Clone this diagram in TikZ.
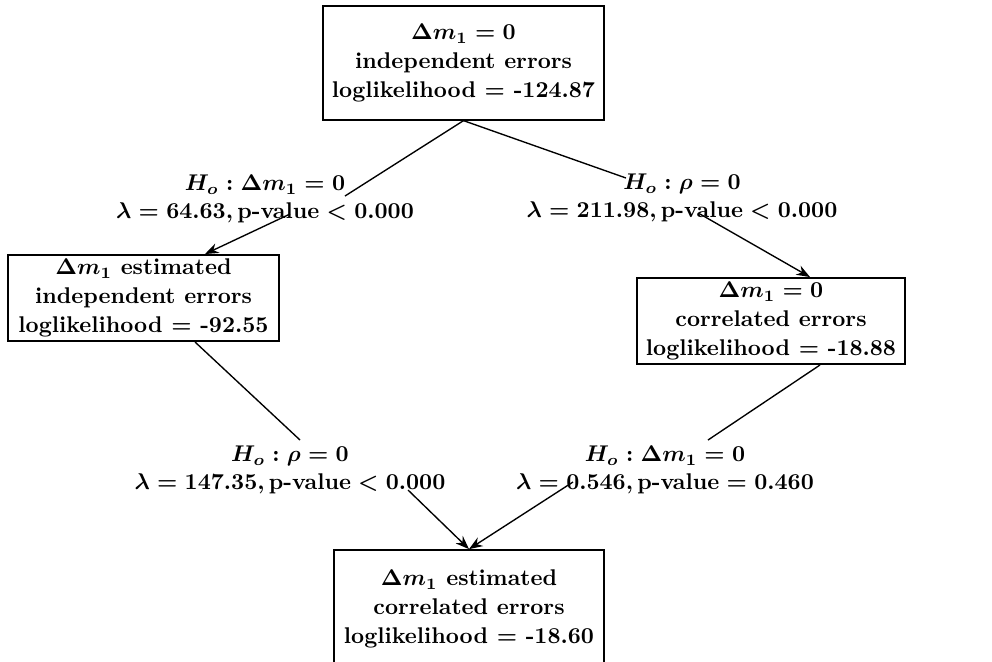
\documentclass[tikz,border=0pt]{standalone}
\usepackage{amsmath}
\usetikzlibrary{arrows.meta,positioning,calc}
\begin{document}
\begin{tikzpicture}[x=0.44pt,y=-0.44pt,>={Stealth[length=6pt,width=4.5pt]},
  mdl/.style={rectangle,draw,line width=0.7pt,align=center,inner sep=0pt,minimum width=119pt,minimum height=38pt,
    font=\fontsize{10}{12.6}\selectfont\bfseries\boldmath},
  tst/.style={align=center,inner sep=0pt,font=\fontsize{10}{12}\selectfont\bfseries\boldmath},
  lnk/.style={line width=0.6pt}]
\useasboundingbox (0,0) rectangle (992,661);
% models
\node[mdl,minimum width=123.6pt,minimum height=50pt] (M0) at (463.5,63) {$\Delta m_1=0$\\independent errors\\loglikelihood $=$ -124.87};
\node[mdl] (M1) at (143.5,298) {$\Delta m_1$ estimated\\independent errors\\loglikelihood $=$ -92.55};
\node[mdl,minimum width=117.9pt] (M2) at (771,321) {$\Delta m_1=0$\\correlated errors\\loglikelihood $=$ -18.88};
\node[mdl,minimum height=52pt] (M3) at (469,609) {$\Delta m_1$ estimated\\correlated errors\\loglikelihood $=$ -18.60};
% tests
\node[tst] (T1) at (265,199) {$H_o:\Delta m_1=0$\\$\lambda=64.63,\text{p-value}<0.000$};
\node[tst] (T2) at (682,198) {$H_o:\rho=0$\\$\lambda=211.98,\text{p-value}<0.000$};
\node[tst] (T3) at (290,470) {$H_o:\rho=0$\\$\lambda=147.35,\text{p-value}<0.000$};
\node[tst] (T4) at (665,470) {$H_o:\Delta m_1=0$\\$\lambda=0.546,\text{p-value}=0.460$};
\coordinate (a1) at (345,196);
\coordinate (b1) at (290,214);
\coordinate (c1) at (205,0);
\coordinate (a2) at (626,178);
\coordinate (b2) at (700,214);
\coordinate (c2) at (810,0);
\coordinate (a3) at (300,440);
\coordinate (b3) at (408,490);
\coordinate (c3) at (195,0);
\coordinate (a4) at (708,440);
\coordinate (b4) at (573,482);
\coordinate (c4) at (820,0);
\draw[lnk] (M0.south) -- (a1);
\draw[lnk,->] (b1) -- (M1.north -| c1);
\draw[lnk] (M0.south) -- (a2);
\draw[lnk,->] (b2) -- (M2.north -| c2);
\draw[lnk] (M1.south -| c3) -- (a3);
\draw[lnk,->] (b3) -- (M3.north);
\draw[lnk] (M2.south -| c4) -- (a4);
\draw[lnk,->] (b4) -- (M3.north);
\end{tikzpicture}
\end{document}
